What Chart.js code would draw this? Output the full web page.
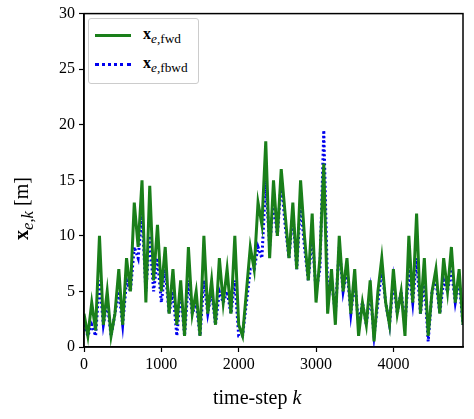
<!DOCTYPE html>
<html lang="en">
<head>
<meta charset="UTF-8">
<script src="https://cdn.jsdelivr.net/npm/chart.js"></script>
<style>
  body { margin: 0; background: #fff; }
  #wrap { position: relative; width: 474px; height: 419px; font-family: "Liberation Serif", "DejaVu Serif", serif; }
  #legend { position: absolute; left: 88px; top: 18px; background: #fff; border: 1px solid #ccc; border-radius: 3px; padding: 3px 10px 3px 6px; font-size: 16px; line-height: 24px; }
  .sw { display: inline-block; width: 36px; height: 0; vertical-align: middle; margin-right: 12px; }
  #ytitle { position: absolute; transform: rotate(-90deg); transform-origin: left top; font-size: 20px; white-space: nowrap; top: 240px; left: 10px; }
  #xtitle { position: absolute; left: 213px; top: 386px; font-size: 20px; }
</style>
</head>
<body>
<div id="wrap">
  <canvas id="c" width="474" height="419"></canvas>
  <div id="legend">
    <div><span class="sw" style="border-top:3px solid #1a7f1a"></span><b>x</b><sub><i>e</i>,fwd</sub></div>
    <div><span class="sw" style="border-top:3px dotted #0000ee"></span><b>x</b><sub><i>e</i>,fbwd</sub></div>
  </div>
  <div id="ytitle"><b>x</b><sub><i>e</i>,<i>k</i></sub> [m]</div>
  <div id="xtitle">time-step <i>k</i></div>
</div>
<script>
const steps = [0,50,100,150,200,250,300,350,400,450,500,550,600,650,700,750,800,850,900,950,
  1000,1050,1100,1150,1200,1250,1300,1350,1400,1450,1500,1550,1600,1650,1700,1750,1800,1850,1900,1950,
  2000,2050,2100,2150,2200,2250,2300,2350,2400,2450,2500,2550,2600,2650,2700,2750,2800,2850,2900,2950,
  3000,3050,3100,3150,3200,3250,3300,3350,3400,3450,3500,3550,3600,3650,3700,3750,3800,3850,3900,3950,
  4000,4050,4100,4150,4200,4250,4300,4350,4400,4450,4500,4550,4600,4650,4700,4750,4800,4850,4900];
const fwd = [3,1,4,1.5,10,2,5,1,3,7,2,8,5,13,9,15,4,14.5,6,11,
  5,9,3,7,2,6,1,9,3,5,1,10,3,6,2,8,4,7,3,10,
  2,1,5,9,7,13,11,18.5,8,15,10,16,12,8,13,7,15,10,6,12,
  4,8,16.5,3,7,2,10,5,8,3,7,1,4,2,6,0.5,5,8,4,2,
  7,3,5,1,10,4,12,3,8,1,5,7,3,8,5,9,4,7,2];
const fbwd = [2,1,2,1,6,2,4,1,3,5,2,6,5,9,8,12,5,10,5,8,
  4,7,3,5,1,5,1,6,3,4,1,6,3,5,2,5,4,5,3,6,
  1,1,4,7,7,9,8,15,9,13,10,15,11,8,12,7,13,9,6,10,
  5,7,19.5,5,6,3,9,5,7,3,6,2,4,2,5,1,4,7,4,2,
  6,3,5,2,7,4,8,3,6,0.5,5,6,3,6,5,7,4,6,2];
const xTicks = [0,1000,2000,3000,4000];

const tickFont = { family: "Liberation Serif", size: 16 };
new Chart(document.getElementById('c'), {
  type: 'line',
  data: {
    labels: steps,
    datasets: [
      { data: steps.map((s, i) => ({ x: s, y: fwd[i] })), borderColor: '#1a7f1a', borderWidth: 3, pointRadius: 0, tension: 0 },
      { data: steps.map((s, i) => ({ x: s, y: fbwd[i] })), borderColor: '#0000ee', borderWidth: 3, borderDash: [2, 2.5], pointRadius: 0, tension: 0 }
    ]
  },
  options: {
    responsive: false,
    animation: false,
    layout: { padding: { top: 12, right: 11, left: 0, bottom: 0 } },
    plugins: { legend: { display: false }, tooltip: { enabled: false } },
    scales: {
      x: {
        type: 'linear', min: 0, max: 4900,
        afterFit: s => { s.height = 72; },
        afterBuildTicks: s => { s.ticks = xTicks.map(v => ({ value: v })); },
        grid: { drawOnChartArea: false, tickLength: 5, color: '#000', tickWidth: 1.2 },
        border: { color: '#000', width: 1.5 },
        ticks: { color: '#000', font: tickFont, padding: 3, maxRotation: 0, callback: v => String(v) }
      },
      y: {
        min: 0, max: 30,
        afterFit: s => { s.width = 84; },
        grid: { drawOnChartArea: false, tickLength: 5, color: '#000', tickWidth: 1.2 },
        border: { color: '#000', width: 1.5 },
        ticks: { color: '#000', font: tickFont, stepSize: 5, padding: 4 }
      }
    }
  },
  plugins: [{
    id: 'frame',
    afterDraw(c) {
      const a = c.chartArea, x = c.ctx;
      x.save(); x.strokeStyle = '#000'; x.lineWidth = 1.5;
      x.strokeRect(a.left, a.top, a.right - a.left, a.bottom - a.top);
      x.restore();
    }
  }]
});
</script>
</body>
</html>
